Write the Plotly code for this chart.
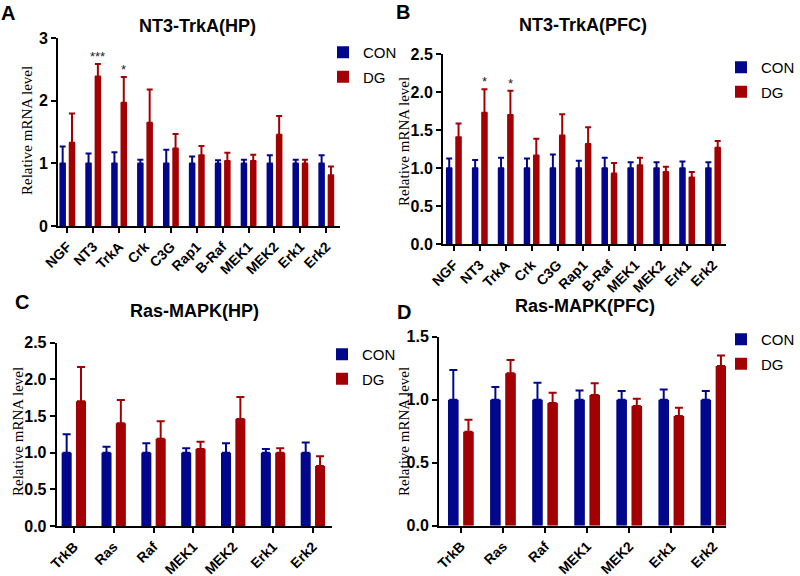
import plotly.graph_objects as go

# ---------------- data ----------------
genes_nt3 = ["NGF", "NT3", "TrkA", "Crk", "C3G", "Rap1", "B-Raf", "MEK1", "MEK2", "Erk1", "Erk2"]
genes_ras = ["TrkB", "Ras", "Raf", "MEK1", "MEK2", "Erk1", "Erk2"]

# Panel A: NT3-TrkA (HP)
a_con_mean = [1.0] * 11
a_con_sem = [0.27, 0.16, 0.18, 0.06, 0.22, 0.11, 0.05, 0.06, 0.13, 0.06, 0.13]
a_dg_mean = [1.33, 2.39, 1.97, 1.65, 1.24, 1.13, 1.04, 1.04, 1.46, 1.00, 0.81]
a_dg_sem = [0.47, 0.20, 0.41, 0.53, 0.23, 0.15, 0.13, 0.10, 0.30, 0.06, 0.14]
a_sig = {"NT3": "***", "TrkA": "*"}

# Panel B: NT3-TrkA (PFC)
b_con_mean = [1.0] * 11
b_con_sem = [0.13, 0.11, 0.14, 0.13, 0.18, 0.10, 0.14, 0.08, 0.08, 0.09, 0.08]
b_dg_mean = [1.41, 1.73, 1.70, 1.17, 1.43, 1.32, 0.93, 1.04, 0.95, 0.88, 1.27]
b_dg_sem = [0.18, 0.31, 0.32, 0.22, 0.28, 0.22, 0.14, 0.10, 0.07, 0.07, 0.09]
b_sig = {"NT3": "*", "TrkA": "*"}

# Panel C: Ras-MAPK (HP)
c_con_mean = [1.0] * 7
c_con_sem = [0.25, 0.08, 0.13, 0.06, 0.13, 0.05, 0.14]
c_dg_mean = [1.70, 1.40, 1.19, 1.05, 1.46, 1.00, 0.82]
c_dg_sem = [0.47, 0.32, 0.24, 0.10, 0.30, 0.06, 0.13]

# Panel D: Ras-MAPK (PFC)
d_con_mean = [1.0] * 7
d_con_sem = [0.235, 0.10, 0.135, 0.074, 0.07, 0.08, 0.07]
d_dg_mean = [0.746, 1.21, 0.974, 1.037, 0.95, 0.87, 1.267]
d_dg_sem = [0.094, 0.105, 0.082, 0.093, 0.058, 0.066, 0.083]

CON_COLOR = "#00078c"
DG_COLOR = "#a30003"
W, H = 800, 576
SANS = "Liberation Sans"
SERIF = "Liberation Serif"


def px_x(x):
    return x / W


def px_y(y):
    return 1 - y / H


panels = [
    dict(key="A", genes=genes_nt3, con=a_con_mean, con_e=a_con_sem, dg=a_dg_mean, dg_e=a_dg_sem, sig=a_sig,
         title="NT3-TrkA(HP)", xd=[58, 340], yd=[226, 38.3], xr=[-0.36, 10.53], yr=[0, 3], dtick=1, fmt="d",
         cap=3, title_xy=(197, 26), lab_xy=(8, 13), ytitle_xy=(27, 131), leg_xy=(343, 52)),
    dict(key="B", genes=genes_nt3, con=b_con_mean, con_e=b_con_sem, dg=b_dg_mean, dg_e=b_dg_sem, sig=b_sig,
         title="NT3-TrkA(PFC)", xd=[443, 726], yd=[244.3, 54.3], xr=[-0.42, 10.5], yr=[0, 2.5], dtick=0.5,
         fmt=".1f", cap=3, title_xy=(583, 25), lab_xy=(403, 12), ytitle_xy=(404, 142), leg_xy=(741, 67)),
    dict(key="C", genes=genes_ras, con=c_con_mean, con_e=c_con_sem, dg=c_dg_mean, dg_e=c_dg_sem, sig={},
         title="Ras-MAPK(HP)", xd=[56.7, 332], yd=[526, 342.7], xr=[-0.43, 6.48], yr=[0, 2.5], dtick=0.5,
         fmt=".1f", cap=4, title_xy=(194, 311), lab_xy=(22, 302), ytitle_xy=(18, 432), leg_xy=(342, 354)),
    dict(key="D", genes=genes_ras, con=d_con_mean, con_e=d_con_sem, dg=d_dg_mean, dg_e=d_dg_sem, sig={},
         title="Ras-MAPK(PFC)", xd=[439, 726], yd=[525.7, 336.7], xr=[-0.52, 6.3], yr=[0, 1.5], dtick=0.5,
         fmt=".1f", cap=4, title_xy=(585, 306), lab_xy=(404, 312), ytitle_xy=(404, 432), leg_xy=(741, 339)),
]

fig = go.Figure()
annotations = []
layout = {}

for i, p in enumerate(panels):
    n = "" if i == 0 else str(i + 1)
    xa, ya = "x" + n, "y" + n
    leg = "legend" + n
    for name, mean, sem, color in (("CON", p["con"], p["con_e"], CON_COLOR),
                                    ("DG", p["dg"], p["dg_e"], DG_COLOR)):
        fig.add_trace(go.Bar(
            x=p["genes"], y=mean, name=name, marker=dict(color=color, line=dict(width=0)),
            error_y=dict(type="data", array=sem, arrayminus=[0] * len(sem), symmetric=False,
                         color=color, thickness=2, width=p["cap"]),
            xaxis=xa, yaxis=ya, legend=leg, legendgroup=p["key"] + name, showlegend=True,
        ))
    layout["xaxis" + n] = dict(
        domain=[px_x(p["xd"][0]), px_x(p["xd"][1])], anchor=ya, type="category",
        categoryorder="array", categoryarray=p["genes"], range=p["xr"],
        showline=True, linecolor="black", linewidth=2, ticks="outside", ticklen=5, tickwidth=2,
        tickcolor="black", tickangle=-45, showgrid=False, zeroline=False, automargin=False,
        tickfont=dict(family=SANS, size=14, color="black", weight="bold"),
    )
    layout["yaxis" + n] = dict(
        domain=[px_y(p["yd"][0]), px_y(p["yd"][1])], anchor=xa, range=p["yr"], dtick=p["dtick"],
        tick0=0, tickformat=p["fmt"], showline=True, linecolor="black", linewidth=2, ticks="outside",
        ticklen=5, tickwidth=2, tickcolor="black", showgrid=False, zeroline=False, automargin=False,
        tickfont=dict(family=SANS, size=16, color="black", weight="bold"),
    )
    lx, ly = p["leg_xy"]
    layout[leg] = dict(
        x=px_x(lx - 20), y=px_y(ly - 16), xanchor="left", yanchor="top",
        font=dict(family=SANS, size=15, color="black"), bgcolor="rgba(0,0,0,0)",
        tracegroupgap=2, itemclick=False,
    )
    # panel title
    tx, ty = p["title_xy"]
    annotations.append(dict(text=p["title"], x=px_x(tx), y=px_y(ty), xref="paper", yref="paper",
                            showarrow=False, xanchor="center", yanchor="middle",
                            font=dict(family=SANS, size=18, color="black", weight="bold")))
    # panel letter
    lbx, lby = p["lab_xy"]
    annotations.append(dict(text=p["key"], x=px_x(lbx), y=px_y(lby), xref="paper", yref="paper",
                            showarrow=False, xanchor="center", yanchor="middle",
                            font=dict(family=SANS, size=20, color="black", weight="bold")))
    # y axis title
    yx, yy = p["ytitle_xy"]
    annotations.append(dict(text="Relative mRNA level", x=px_x(yx), y=px_y(yy), xref="paper",
                            yref="paper", showarrow=False, textangle=-90, xanchor="center",
                            yanchor="middle", font=dict(family=SERIF, size=15, color="black")))
    # significance stars
    for g, s in p["sig"].items():
        k = p["genes"].index(g)
        annotations.append(dict(text=s, x=k + 0.18, y=p["dg"][k] + p["dg_e"][k], xref=xa, yref=ya,
                                showarrow=False, xanchor="center", yanchor="bottom", yshift=-2,
                                font=dict(family=SANS, size=13, color="#222222")))

fig.update_layout(
    width=W, height=H, margin=dict(l=0, r=0, t=0, b=0, pad=0, autoexpand=False),
    paper_bgcolor="white", plot_bgcolor="white",
    barmode="group", bargap=0.28, bargroupgap=0.3,
    annotations=annotations, **layout,
)

fig.write_html("out.html", config={"displayModeBar": False},
               post_script="document.body.style.margin='0';document.body.style.overflow='hidden';")
